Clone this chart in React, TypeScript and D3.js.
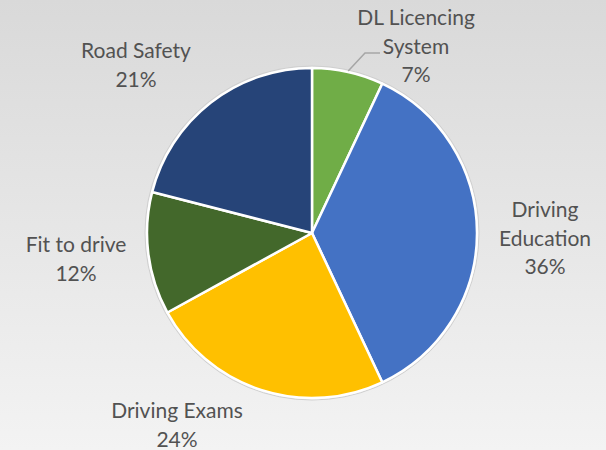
import React from "react";
import * as d3 from "d3";

const categories = ["DL Licencing System", "Driving Education", "Driving Exams", "Fit to drive", "Road Safety"];
const values = [7, 36, 24, 12, 21];
const colors = ["#70AD47", "#4472C4", "#FFC000", "#43682B", "#264478"];
const labelLines = [
  ["DL Licencing", "System", "7%"],
  ["Driving", "Education", "36%"],
  ["Driving Exams", "24%"],
  ["Fit to drive", "12%"],
  ["Road Safety", "21%"],
];
const labelPos = [
  [416, 25],
  [545, 217],
  [177, 418],
  [76, 252],
  [136, 58],
];

const W = 606, H = 450;
const cx = 312, cy = 233, R = 165;

export default function App() {
  const pie = d3.pie<number>().sort(null).value((d) => d)(values);
  const arc = d3.arc<d3.PieArcDatum<number>>().innerRadius(0).outerRadius(R);
  const lh = 28.5;
  const a0 = pie[0];
  const mid = (a0.startAngle + a0.endAngle) / 2;
  const ex = cx + (R + 1) * Math.sin(mid), ey = cy - (R + 1) * Math.cos(mid);
  return (
    <svg width={W} height={H} style={{ position: "fixed", left: 0, top: 0 }}>
      <defs>
        <linearGradient id="bg" x1="0" y1="0" x2="0" y2="1">
          <stop offset="0" stopColor="#d9d9d9" />
          <stop offset="1" stopColor="#f3f3f3" />
        </linearGradient>
      </defs>
      <rect width={W} height={H} fill="url(#bg)" />
      <circle cx={cx} cy={cy} r={R + 2} fill="none" stroke="#cfcfcf" strokeWidth={1} />
      <g transform={`translate(${cx},${cy})`}>
        {pie.map((p, i) => (
          <path key={categories[i]} d={arc(p) || ""} fill={colors[i]} stroke="#fff" strokeWidth={2.5} strokeLinejoin="round" />
        ))}
      </g>
      <polyline points={`${ex},${ey} 365,53 380,53`} fill="none" stroke="#a6a6a6" strokeWidth={1.5} />
      {labelLines.map((lines, i) => (
        <text key={i} fontFamily="Lato, 'Noto Sans', sans-serif" fontSize={21} fill="#525252" textAnchor="middle">
          {lines.map((l, j) => (
            <tspan key={j} x={labelPos[i][0]} y={labelPos[i][1] + j * lh}>{l}</tspan>
          ))}
        </text>
      ))}
    </svg>
  );
}
